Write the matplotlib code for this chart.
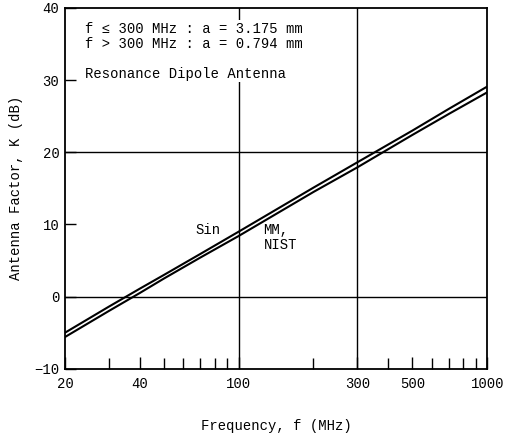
import matplotlib
matplotlib.use('agg')
import matplotlib.pyplot as plt
from matplotlib.ticker import FixedLocator, NullFormatter

# antenna factor of a resonant dipole, two calculation methods
freq_mhz = [20, 30, 40, 50, 70, 100, 200, 300, 500, 700, 1000]
af_sin = [-5.0, -1.4, 1.1, 3.0, 5.9, 9.0, 15.1, 18.6, 23.0, 26.0, 29.1]
af_mm_nist = [-5.6, -2.0, 0.5, 2.5, 5.4, 8.4, 14.5, 17.9, 22.4, 25.3, 28.3]

major_x = [20, 40, 100, 300, 500, 1000]
minor_x = [30, 50, 60, 70, 80, 90, 200, 400, 600, 700, 800, 900]
y_ticks = [-10, 0, 10, 20, 30, 40]
grid_x = [100, 300]
grid_y = [0, 20]

plt.rcParams['font.family'] = ['Liberation Mono', 'DejaVu Sans Mono']
plt.rcParams['font.size'] = 10

fig = plt.figure(figsize=(5.07, 4.36), dpi=100)
ax = fig.add_axes([0.128, 0.154, 0.833, 0.828])

for gx in grid_x:
    ax.axvline(gx, color='black', lw=1.0, zorder=1)
for gy in grid_y:
    ax.axhline(gy, color='black', lw=1.0, zorder=1)

ax.plot(freq_mhz, af_sin, color='black', lw=1.5, zorder=3)
ax.plot(freq_mhz, af_mm_nist, color='black', lw=1.5, zorder=3)

ax.set_xscale('log')
ax.set_xlim(20, 1000)
ax.set_ylim(-10, 40)

ax.xaxis.set_major_locator(FixedLocator(major_x))
ax.xaxis.set_major_formatter(plt.FixedFormatter([str(v) for v in major_x]))
ax.xaxis.set_minor_locator(FixedLocator(minor_x))
ax.xaxis.set_minor_formatter(NullFormatter())
ax.set_yticks(y_ticks)

ax.tick_params(axis='both', which='both', direction='in', top=False, right=False,
               width=1.0, colors='black')
ax.tick_params(axis='x', which='major', length=9, pad=6)
ax.tick_params(axis='x', which='minor', length=8)
ax.tick_params(axis='y', length=8, pad=4)

for sp in ax.spines.values():
    sp.set_linewidth(1.3)

# white box so the 100 MHz grid line breaks behind the notes
ax.text(0.047, 0.962,
        'f \u2264 300 MHz : a = 3.175 mm\nf > 300 MHz : a = 0.794 mm\n\nResonance Dipole Antenna',
        transform=ax.transAxes, ha='left', va='top', linespacing=1.1, zorder=4,
        bbox=dict(facecolor='white', edgecolor='none', pad=1))

ax.text(0.31, 0.385, 'Sin', transform=ax.transAxes, ha='left', va='center')
ax.text(0.47, 0.403, 'MM,\nNIST', transform=ax.transAxes, ha='left', va='top',
        linespacing=1.1)

ax.set_ylabel('Antenna Factor, K (dB)', labelpad=8)
ax.set_xlabel('Frequency, f (MHz)', labelpad=20)

fig.savefig('out.png', dpi=100)
